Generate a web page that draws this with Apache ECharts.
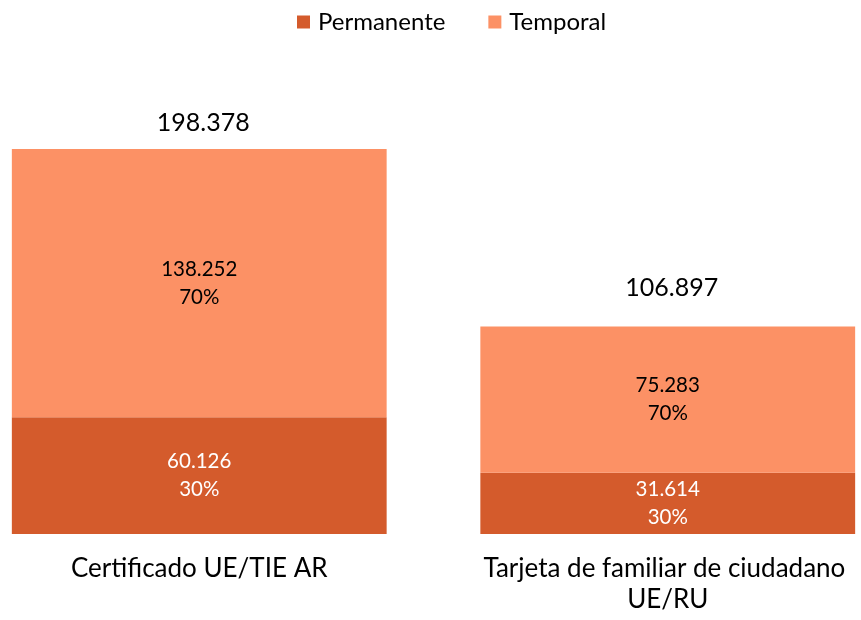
<!DOCTYPE html>
<html>
<head>
<meta charset="utf-8">
<script src="https://cdn.jsdelivr.net/npm/echarts@6/dist/echarts.min.js"></script>
<style>
  html, body { margin: 0; padding: 0; background: #fff; }
  #chart { width: 861px; height: 620px; }
</style>
</head>
<body>
<div id="chart"></div>
<script>
// DATA
const categories = ['Certificado UE/TIE AR', 'Tarjeta de familiar de ciudadano UE/RU']
const permanente = [60126, 31614]
const temporal = [138252, 75283]
const totals = [198378, 106897]
const pctPermanente = ['30%', '30%']
const pctTemporal = ['70%', '70%']

const FONT = 'Lato'
const fmt = v => v.toLocaleString('de-DE')

// gap between each total label and its bar top
const totalGaps = [14, 26]

const chart = echarts.init(document.getElementById('chart'))

chart.setOption({
  animation: false,
  textStyle: { fontFamily: FONT },
  legend: {
    data: ['Permanente', 'Temporal'],
    top: 5,
    left: 292,
    itemWidth: 13,
    itemHeight: 13,
    itemGap: 43,
    icon: 'rect',
    textStyle: { fontFamily: FONT, fontSize: 24, color: '#000', padding: [0, 0, 0, 3] }
  },
  grid: { left: -35, right: -41, top: 149, bottom: 86, outerBoundsMode: 'none' },
  xAxis: {
    type: 'category',
    data: categories,
    axisLine: { show: false },
    axisTick: { show: false },
    axisLabel: {
      interval: 0,
      fontFamily: FONT,
      fontSize: 26,
      color: '#000',
      margin: 19,
      lineHeight: 31,
      width: 375,
      overflow: 'break'
    }
  },
  yAxis: {
    type: 'value',
    min: 0,
    max: 198378,
    show: false,
    splitLine: { show: false }
  },
  series: [
    {
      name: 'Permanente',
      type: 'bar',
      stack: 'a',
      barCategoryGap: '20%',
      data: permanente,
      itemStyle: { color: '#D45B2C' },
      label: {
        show: true,
        position: 'inside',
        color: '#fff',
        fontFamily: FONT,
        fontSize: 20.5,
        lineHeight: 28,
        formatter: p => fmt(p.value) + '\n' + pctPermanente[p.dataIndex]
      }
    },
    {
      name: 'Temporal',
      type: 'bar',
      stack: 'a',
      barCategoryGap: '20%',
      data: temporal,
      itemStyle: { color: '#FC9165' },
      label: {
        show: true,
        position: 'inside',
        color: '#000',
        fontFamily: FONT,
        fontSize: 20.5,
        lineHeight: 28,
        formatter: p => fmt(p.value) + '\n' + pctTemporal[p.dataIndex]
      }
    },
    {
      name: 'Total',
      type: 'bar',
      stack: 'a',
      barCategoryGap: '20%',
      data: totals.map((t, i) => ({ value: 0, label: { distance: totalGaps[i] } })),
      itemStyle: { color: 'transparent' },
      label: {
        show: true,
        position: 'top',
        offset: [4, 0],
        color: '#000',
        fontFamily: FONT,
        fontSize: 25,
        formatter: p => fmt(totals[p.dataIndex])
      }
    }
  ]
})
</script>
</body>
</html>
